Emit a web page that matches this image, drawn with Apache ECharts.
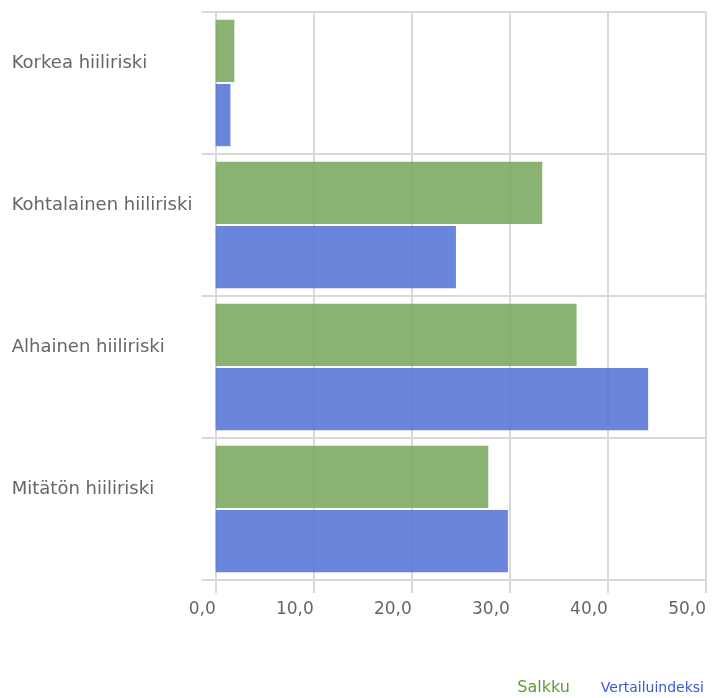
<!DOCTYPE html>
<html><head><meta charset="utf-8">
<script src="https://cdn.jsdelivr.net/npm/echarts@6/dist/echarts.min.js"></script>
<style>html,body{margin:0;padding:0;background:#fff}#c{width:721px;height:698px}</style>
</head><body><div id="c"></div>
<script>
const categories = ['Korkea hiiliriski', 'Kohtalainen hiiliriski', 'Alhainen hiiliriski', 'Mitätön hiiliriski'];
const salkku = [1.9, 33.3, 36.8, 27.8];
const vertailu = [1.5, 24.5, 44.1, 29.8];
const xTicks = [0, 10, 20, 30, 40, 50];

const chart = echarts.init(document.getElementById('c'));
const font = '"DejaVu Sans", sans-serif';
chart.setOption({
  animation: false,
  grid: { left: 215.7, right: 15, top: 12, bottom: 118, outerBoundsMode: 'none', containLabel: false },
  legend: {
    right: 12, bottom: -3, icon: 'none', itemWidth: 0, itemGap: 26,
    textStyle: { fontFamily: font, fontSize: 14 },
    data: [
      { name: 'Salkku', textStyle: { color: '#5b9b3a', fontSize: 16 } },
      { name: 'Vertailuindeksi', textStyle: { color: '#3a57d4', fontSize: 14 } }
    ]
  },
  xAxis: {
    type: 'value', min: xTicks[0], max: xTicks[xTicks.length - 1], interval: 10,
    axisLine: { show: false },
    axisTick: { show: true, length: 13, lineStyle: { color: '#d9d9d9', width: 2 } },
    splitLine: { show: true, lineStyle: { color: '#d9d9d9', width: 2 } },
    axisLabel: { margin: 21, align: 'right', color: '#666', fontFamily: font, fontSize: 17,
      formatter: v => v.toFixed(1).replace('.', ',') }
  },
  yAxis: {
    type: 'category', data: categories, inverse: true,
    axisLine: { show: false },
    axisTick: { show: true, length: 14, lineStyle: { color: '#d9d9d9', width: 2 } },
    splitLine: { show: true, lineStyle: { color: '#d9d9d9', width: 2 } },
    axisLabel: { align: 'left', margin: 204, color: '#666', fontFamily: font, fontSize: 18,
      verticalAlign: 'bottom', lineHeight: 40 }
  },
  series: [
    { name: 'Salkku', type: 'bar', data: salkku, barCategoryGap: '11%', barGap: '3%',
      itemStyle: { color: 'rgb(117,166,90)', opacity: 0.85 } },
    { name: 'Vertailuindeksi', type: 'bar', data: vertailu, barCategoryGap: '11%', barGap: '3%',
      itemStyle: { color: 'rgb(80,113,214)', opacity: 0.85 } }
  ]
});
</script></body></html>
